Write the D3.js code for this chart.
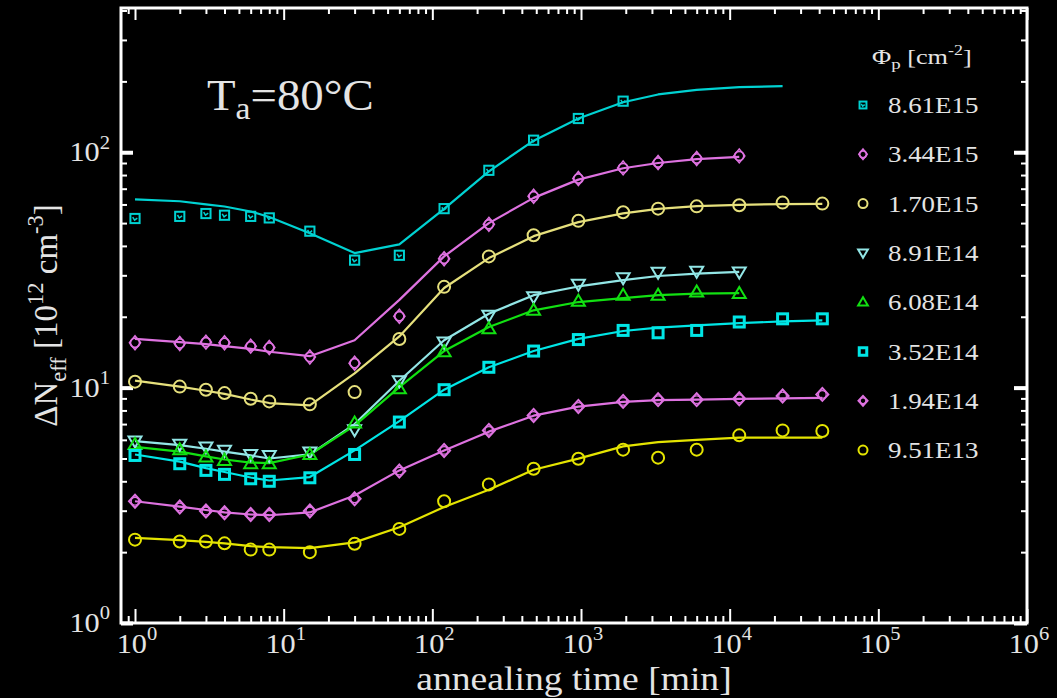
<!DOCTYPE html>
<html><head><meta charset="utf-8">
<script src="https://cdn.jsdelivr.net/npm/d3@7"></script>
<style>html,body{margin:0;padding:0;background:#000;} svg{display:block;}</style>
</head><body>
<svg id="c" width="1057" height="698"></svg>
<script>
// ---------------- DATA ----------------
const times = [1,2,3,4,6,8,15,30,60,120,240,480,960,1920,3300,6000,11600,22700,42000];
const fluences = ["8.61E15","3.44E15","1.70E15","8.91E14","6.08E14","3.52E14","1.94E14","9.51E13"];
const seriesColors = ["#00d2d2","#de72e0","#e6e07c","#92e6e6","#12e012","#00e6e6","#de72e0","#e4e400"];
const seriesMarkers = ["sqdot","diacirc","circle","tridown","triup","square","diamond","circle"];

const s1Points = [52.3,53.4,54.9,54.0,53.4,52.6,46.2,34.8,36.5,57.6,83.8,112.5,139.1,164.8];
const s1Fit    = [63.1,61.9,60.1,58.8,56.0,53.1,45.3,37.3,40.6,57.5,83,112,139,163,176,184,189,191];
const s2Points = [15.5,15.4,15.6,15.5,15.0,14.8,13.5,12.7,20.1,35.3,49.4,65.0,77.3,85.8,90.4,94.0,96.5];
const s2Fit    = [16.1,15.6,15.3,15.0,14.6,14.2,13.6,15.9,23.6,36.1,50.0,64.0,76.5,85.5,90.0,93.5,95.5];
const s3Points = [10.6,10.1,9.8,9.48,8.97,8.74,8.49,9.57,16.1,26.8,36.1,44.4,51.1,55.6,57.6,58.9,59.5,61.1,60.5];
const s3Fit    = [10.7,10.1,9.7,9.4,8.9,8.6,8.4,11.5,16.5,26.5,35.5,44.0,50.5,55.0,57.5,59.0,59.8,60.2,60.4];
const s4Points = [5.93,5.74,5.59,5.41,5.20,5.15,5.32,6.62,10.7,15.6,20.3,24.3,27.5,29.3,30.9,31.2,31.0];
const s4Fit    = [5.93,5.7,5.5,5.35,5.15,5.0,5.2,7.0,10.7,15.9,20.6,24.7,26.9,28.6,29.8,30.5,31.0];
const s5Points = [5.74,5.45,5.07,4.91,4.75,4.75,5.20,7.07,9.9,14.2,17.8,21.3,23.3,24.7,24.7,25.5,25.1];
const s5Fit    = [5.6,5.35,5.1,4.95,4.8,4.78,5.2,6.9,10.05,14.3,18.1,21.3,23.1,24.0,24.7,25.1,25.2];
const s6Points = [5.15,4.75,4.45,4.28,4.10,4.00,4.14,5.20,7.14,9.8,12.2,14.3,16.0,17.5,17.1,17.5,19.0,19.6,19.6];
const s6Fit    = [5.2,4.85,4.55,4.38,4.15,4.03,4.17,5.41,7.21,9.8,12.2,14.3,16.1,17.4,18.0,18.4,18.8,19.1,19.3];
const s7Points = [3.29,3.11,2.99,2.94,2.89,2.89,2.99,3.37,4.42,5.41,6.58,7.62,8.32,8.74,8.89,8.89,8.97,9.21,9.36];
const s7Fit    = [3.29,3.12,3.02,2.95,2.89,2.87,2.95,3.48,4.45,5.4,6.5,7.6,8.3,8.7,8.85,8.9,8.95,9.0,9.05];
const s8Points = [2.26,2.22,2.22,2.18,2.05,2.05,2.0,2.17,2.51,3.29,3.88,4.52,4.99,5.45,5.04,5.45,6.27,6.58,6.54];
const s8Fit    = [2.30,2.25,2.21,2.18,2.12,2.10,2.08,2.20,2.55,3.11,3.68,4.48,4.99,5.63,5.87,6.0,6.13,6.13,6.13];

const pointSets = [s1Points,s2Points,s3Points,s4Points,s5Points,s6Points,s7Points,s8Points];
const fitSets   = [s1Fit,s2Fit,s3Fit,s4Fit,s5Fit,s6Fit,s7Fit,s8Fit];

const xTickExponents = [0,1,2,3,4,5,6];
const yTickExponents = [0,1,2];
const tempLabel = ["T","a","=80°C"];
const xTitle = "annealing time [min]";

// ---------------- LAYOUT ----------------
const L=121, R=1027, T=8, B=623;
const FONT = "'Liberation Serif','Times New Roman',serif";
const TXT = "#e4e4e4";
const svg = d3.select("#c");
svg.append("rect").attr("width",1057).attr("height",698).attr("fill","#000");

const x = d3.scaleLog().domain([0.805,1e6]).range([L,R]);
const y = d3.scaleLog().domain([1,410]).range([B,T]);

function ticksFor(scale){
  const [a,b] = scale.domain(); const major=[], minor=[];
  for(let e=-1;e<=6;e++) for(let m=1;m<=9;m++){
    const v=m*Math.pow(10,e);
    if(v<a*0.999||v>b*1.001) continue;
    (m===1?major:minor).push(v);
  }
  return {major,minor};
}
const xt = ticksFor(x), yt = ticksFor(y);

function axisDraw(axisGen, transform, vals, size, sw){
  const g = svg.append("g").attr("transform",transform)
    .call(axisGen.tickValues(vals).tickSize(size).tickSizeOuter(0).tickFormat(""));
  g.select(".domain").remove();
  g.selectAll("line").attr("stroke","#fff").attr("stroke-width",sw);
  return g;
}
// bottom / top
axisDraw(d3.axisBottom(x), `translate(0,${B})`, xt.minor, -7, 2);
axisDraw(d3.axisBottom(x), `translate(0,${B})`, xt.major, -14, 2);
axisDraw(d3.axisTop(x), `translate(0,${T})`, xt.minor, -6, 2);
axisDraw(d3.axisTop(x), `translate(0,${T})`, xt.major, -12, 2);
// left / right
axisDraw(d3.axisLeft(y), `translate(${L},0)`, yt.minor, -6, 2);
axisDraw(d3.axisLeft(y), `translate(${L},0)`, yt.major, -12, 4);
axisDraw(d3.axisRight(y), `translate(${R},0)`, yt.minor, -6, 2);
axisDraw(d3.axisRight(y), `translate(${R},0)`, yt.major, -13, 4);

// frame
svg.append("rect").attr("x",L).attr("y",T).attr("width",R-L).attr("height",B-T)
  .attr("fill","none").attr("stroke","#fff").attr("stroke-width",3);

// rich text helper: parts = [[text, scale, baselineOffsetEm]]
function rich(parent, tx, ty, parts, size, anchor, sx, rot){
  const g = parent.append("g").attr("transform",`translate(${tx},${ty})${rot?` rotate(${rot})`:""} scale(${sx||1},1)`);
  const t = g.append("text").attr("font-family",FONT).attr("font-size",size)
    .attr("fill",TXT).attr("text-anchor",anchor||"start");
  let prev=0;
  parts.forEach(p=>{
    const off = (p[2]||0)*size;
    t.append("tspan").text(p[0]).attr("font-size",size*(p[1]||1)).attr("dy",off-prev);
    prev=off;
  });
  return t;
}

// tick labels
xTickExponents.forEach(e=>{
  rich(svg, x(Math.pow(10,e))+2, 653, [["10"],[String(e),0.68,-0.45]], 28, "middle", 1.08);
});
yTickExponents.forEach(e=>{
  rich(svg, 110, y(Math.pow(10,e))+9, [["10"],[String(e),0.68,-0.45]], 28, "end", 1.08);
});

// axis titles
rich(svg, (L+R)/2, 690, [[xTitle]], 33, "middle", 1.14);
rich(svg, 57, (T+B)/2, [["ΔN"],["eff",0.68,0.28],[" [10"],["12",0.68,-0.42],[" cm"],["-3",0.68,-0.42],["]"]], 33, "middle", 1, -90);

// temperature label
rich(svg, 207, 110, [[tempLabel[0]],[tempLabel[1],0.72,0.2],[tempLabel[2]]], 45, "start", 1.04);

// ---------------- MARKERS ----------------
function marker(g, type, cx, cy, color, k){
  k = k||1;
  const st = s => s.attr("fill","none").attr("stroke",color);
  switch(type){
    case "sqdot": {
      const h=4.6*k;
      st(g.append("rect").attr("x",cx-h).attr("y",cy-h).attr("width",2*h).attr("height",2*h)).attr("stroke-width",2);
      st(g.append("path").attr("d",`M${cx-h*0.5},${cy-h*0.3}L${cx-h*0.1},${cy+h*0.35}L${cx+h*0.5},${cy-h*0.1}`)).attr("stroke-width",1.5);
      break; }
    case "diacirc": {
      st(g.append("circle").attr("cx",cx).attr("cy",cy).attr("r",4.6*k)).attr("stroke-width",1.8);
      st(g.append("path").attr("d",`M${cx},${cy-7*k}L${cx+5.6*k},${cy}L${cx},${cy+7*k}L${cx-5.6*k},${cy}Z`)).attr("stroke-width",1.5);
      break; }
    case "circle":
      st(g.append("circle").attr("cx",cx).attr("cy",cy).attr("r",6*k)).attr("stroke-width",2); break;
    case "tridown": {
      const s=6.5*k;
      st(g.append("path").attr("d",`M${cx-s},${cy-s*0.7}L${cx+s},${cy-s*0.7}L${cx},${cy+s}Z`)).attr("stroke-width",2); break; }
    case "triup": {
      const s=6.5*k;
      st(g.append("path").attr("d",`M${cx-s},${cy+s*0.7}L${cx+s},${cy+s*0.7}L${cx},${cy-s}Z`)).attr("stroke-width",2); break; }
    case "square": {
      const h=5*k;
      st(g.append("rect").attr("x",cx-h).attr("y",cy-h).attr("width",2*h).attr("height",2*h)).attr("stroke-width",3); break; }
    case "diamond":
      st(g.append("path").attr("d",`M${cx},${cy-6.5*k}L${cx+6*k},${cy}L${cx},${cy+6.5*k}L${cx-6*k},${cy}Z`)).attr("stroke-width",2);
      st(g.append("circle").attr("cx",cx).attr("cy",cy).attr("r",3.8*k)).attr("stroke-width",1.2);
      break;
  }
}

// ---------------- SERIES ----------------
const line = d3.line().x(d=>x(d[0])).y(d=>y(d[1]));
const plot = svg.append("g");
fitSets.forEach((fit,i)=>{
  const pts = fit.map((v,j)=>[times[j],v]);
  plot.append("path").attr("d",line(pts)).attr("fill","none")
    .attr("stroke",seriesColors[i]).attr("stroke-width",2.2).attr("stroke-linejoin","round");
});
pointSets.forEach((vals,i)=>{
  const g = plot.append("g");
  vals.forEach((v,j)=> marker(g, seriesMarkers[i], x(times[j]), y(v), seriesColors[i], 1));
});

// ---------------- LEGEND ----------------
const legX = 863, legTextX = 888, legY0 = 105, legStep = 49.3;
rich(svg, 872, 64, [["Φ"],["p",0.72,0.25],[" [cm"],["-2",0.68,-0.42],["]"]], 21, "start", 1.25);
fluences.forEach((f,i)=>{
  const cy = legY0 + i*legStep;
  marker(svg.append("g"), seriesMarkers[i], legX, cy, seriesColors[i], 0.75);
  rich(svg, legTextX, cy+8, [[f]], 23, "start", 1.17);
});
</script>
</body></html>
